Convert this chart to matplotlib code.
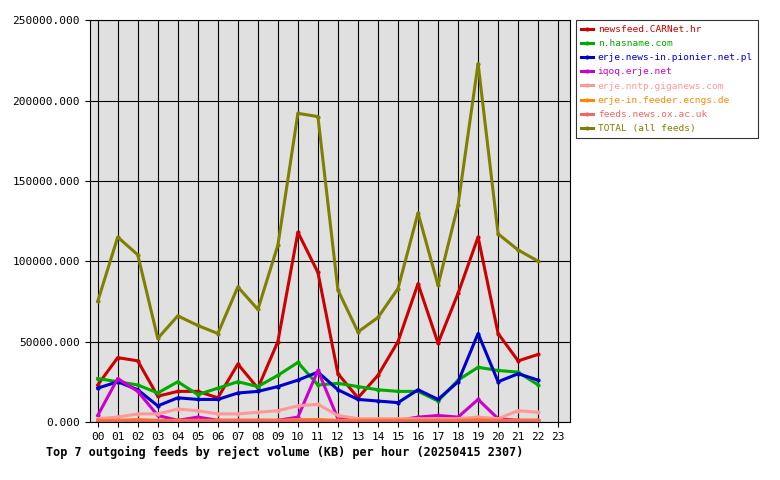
import matplotlib
matplotlib.use('Agg')
import matplotlib.pyplot as plt
from matplotlib.ticker import FuncFormatter

# Hours and series (KB per hour)
hours = list(range(23))
hour_labels = [f'{h:02d}' for h in range(24)]

carnet = [23000, 40000, 38000, 16000, 19000, 19000, 15000, 36000, 21000, 50000, 118000, 93000,
          30000, 15000, 29000, 50000, 86000, 49000, 80000, 115000, 55000, 38000, 42000]
hasname = [27000, 25000, 23000, 18000, 25000, 17000, 21000, 25000, 22000, 29000, 37000, 23000,
           24000, 22000, 20000, 19000, 19000, 13000, 26000, 34000, 32000, 31000, 23000]
pionier = [21000, 25000, 20000, 10000, 15000, 14000, 14000, 18000, 19000, 22000, 26000, 31000,
           20000, 14000, 13000, 12000, 20000, 14000, 25000, 55000, 25000, 30000, 26000]
iqoq = [4000, 27000, 19000, 4000, 1000, 3000, 1000, 1000, 1000, 1000, 3000, 32000,
        2000, 1000, 1000, 1000, 3000, 4000, 3000, 14000, 2000, 1000, 1000]
giganews = [2000, 3000, 5000, 5000, 8000, 7000, 5000, 5000, 6000, 7000, 10000, 11000,
            4000, 2000, 2000, 2000, 2000, 2000, 2000, 3000, 2000, 7000, 6000]
ecngs = [1000, 1000, 1500, 1000, 1000, 1000, 1000, 1000, 1000, 1000, 1500, 1500,
         1000, 1000, 1000, 1000, 1000, 1000, 1000, 1500, 1000, 1000, 1000]
oxac = [500, 500, 800, 500, 500, 500, 500, 500, 500, 500, 800, 800,
        500, 500, 500, 500, 500, 500, 500, 800, 500, 500, 500]
total = [75000, 115000, 104000, 52000, 66000, 60000, 55000, 84000, 70000, 110000, 192000, 190000,
         82000, 56000, 65000, 83000, 130000, 85000, 135000, 223000, 117000, 107000, 100000]

series = [
    ('newsfeed.CARNet.hr', carnet, '#cc0000'),
    ('n.hasname.com', hasname, '#00aa00'),
    ('erje.news-in.pionier.net.pl', pionier, '#0000cc'),
    ('iqoq.erje.net', iqoq, '#cc00cc'),
    ('erje.nntp.giganews.com', giganews, '#ff9999'),
    ('erje-in.feeder.ecngs.de', ecngs, '#ff8800'),
    ('feeds.news.ox.ac.uk', oxac, '#ee6666'),
    ('TOTAL (all feeds)', total, '#808000'),
]

plt.rcParams['font.family'] = 'DejaVu Sans Mono'
fig = plt.figure(figsize=(7.8, 4.8), dpi=100)
ax = fig.add_axes([0.115, 0.121, 0.616, 0.837])
ax.set_facecolor('#e0e0e0')

for name, vals, col in series:
    ax.plot(hours, vals, color=col, linewidth=2.2, marker='o', markersize=2, label=name)

ax.set_xlim(-0.4, 23.6)
ax.set_ylim(0, 250000)
ax.set_xticks(range(24))
ax.set_xticklabels(hour_labels, fontsize=8)
ax.set_yticks(range(0, 250001, 50000))
ax.yaxis.set_major_formatter(FuncFormatter(lambda v, p: f'{v:.3f}'))
ax.tick_params(axis='y', labelsize=8)
ax.grid(True, color='black', linewidth=0.8)
ax.set_axisbelow(True)
for s in ax.spines.values():
    s.set_linewidth(0.8)

ax.set_xlabel('Top 7 outgoing feeds by reject volume (KB) per hour (20250415 2307)',
              fontsize=8.5, fontweight='bold', loc='left', labelpad=4)
ax.xaxis.set_label_coords(-0.09, -0.06)

leg = ax.legend(loc='upper left', bbox_to_anchor=(1.012, 1.0), fontsize=6.8, frameon=True,
                fancybox=False, edgecolor='black', borderpad=0.5, labelspacing=0.55,
                handlelength=1.3, handletextpad=0.5, borderaxespad=0, markerscale=1)
leg.get_frame().set_linewidth(0.8)
for t, (_, _, col) in zip(leg.get_texts(), series):
    t.set_color(col)

plt.savefig('out.png', dpi=100)
